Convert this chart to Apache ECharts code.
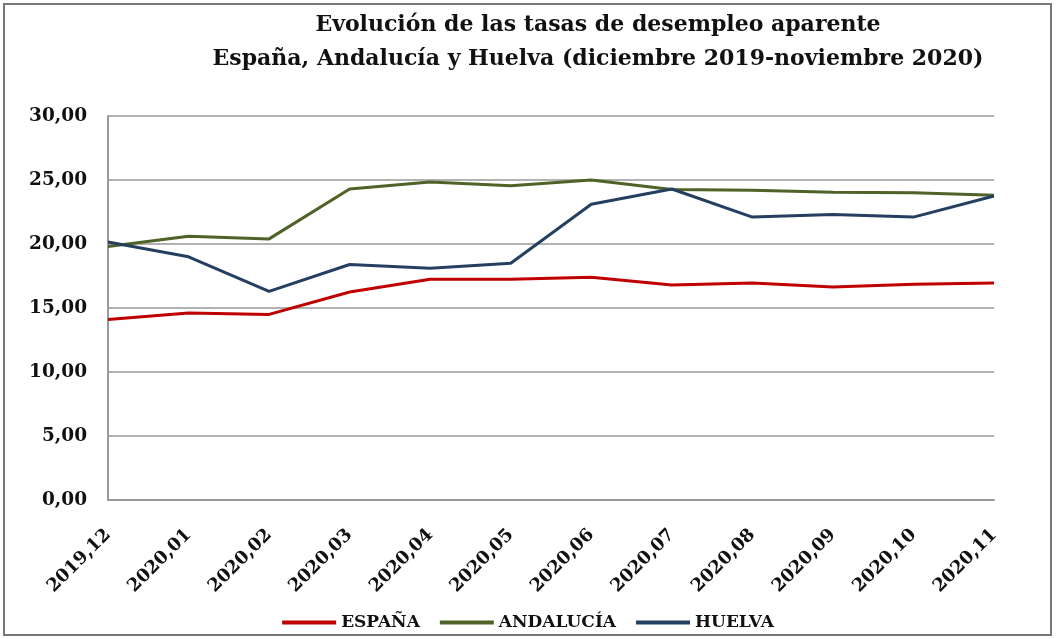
<!DOCTYPE html>
<html>
<head>
<meta charset="utf-8">
<script src="https://cdn.jsdelivr.net/npm/echarts@6/dist/echarts.min.js"></script>
<style>
  html, body { margin: 0; padding: 0; background: #fff; }
  #main { width: 1056px; height: 639px; }
</style>
</head>
<body>
<div id="main"></div>
<script>
// meses (eje X)
var meses = ['2019,12', '2020,01', '2020,02', '2020,03', '2020,04', '2020,05',
  '2020,06', '2020,07', '2020,08', '2020,09', '2020,10', '2020,11'];

// tasas de desempleo aparente (%)
var espana = [14.1, 14.6, 14.5, 16.25, 17.25, 17.25, 17.4, 16.8, 16.95, 16.65, 16.85, 16.95];
var andalucia = [19.8, 20.6, 20.4, 24.3, 24.85, 24.55, 25.0, 24.25, 24.2, 24.05, 24.0, 23.8];
var huelva = [20.15, 19.0, 16.3, 18.4, 18.1, 18.5, 23.1, 24.3, 22.1, 22.3, 22.1, 23.75];

var fuente = '"DejaVu Serif", "Liberation Serif", serif';

var chart = echarts.init(document.getElementById('main'));

chart.setOption({
  backgroundColor: '#fff',
  animation: false,
  title: {
    text: 'Evolución de las tasas de desempleo aparente\nEspaña, Andalucía y Huelva (diciembre 2019-noviembre 2020)',
    left: 593,
    top: 3,
    textAlign: 'center',
    textStyle: {
      fontFamily: fuente,
      fontWeight: 'bold',
      fontSize: 22,
      lineHeight: 34,
      color: '#111'
    }
  },
  //marco exterior
  graphic: [{
    type: 'rect',
    shape: { x: 4, y: 4, width: 1047, height: 631 },
    style: { fill: 'none', stroke: '#777', lineWidth: 2 },
    silent: true
  }],
  legend: {
    bottom: 3,
    left: 'center',
    icon: 'rect',
    itemWidth: 54,
    itemHeight: 4,
    itemGap: 20,
    textStyle: {
      fontFamily: fuente,
      fontWeight: 'bold',
      fontSize: 17,
      color: '#111'
    },
    data: ['ESPAÑA', 'ANDALUCÍA', 'HUELVA']
  },
  grid: {
    left: 108,
    right: 62,
    top: 116,
    bottom: 139
  },
  xAxis: {
    type: 'category',
    boundaryGap: false,
    data: meses,
    axisLine: { lineStyle: { color: '#999', width: 2 } },
    axisTick: { show: false },
    axisLabel: {
      rotate: 45,
      margin: 32,
      fontFamily: fuente,
      fontWeight: 'bold',
      fontSize: 18,
      color: '#111'
    }
  },
  yAxis: {
    type: 'value',
    min: 0,
    max: 30,
    interval: 5,
    axisLine: { show: true, lineStyle: { color: '#999', width: 2 } },
    axisTick: { show: false },
    splitLine: { lineStyle: { color: '#999', width: 1.5 } },
    axisLabel: {
      margin: 21,
      fontFamily: fuente,
      fontWeight: 'bold',
      fontSize: 18.5,
      color: '#111',
      formatter: function (v) {
        return v.toFixed(2).replace('.', ',');
      }
    }
  },
  series: [
    {
      name: 'ESPAÑA',
      type: 'line',
      data: espana,
      symbol: 'none',
      color: '#C00000',
      lineStyle: { width: 3 }
    },
    {
      name: 'ANDALUCÍA',
      type: 'line',
      data: andalucia,
      symbol: 'none',
      color: '#4F6228',
      lineStyle: { width: 3 }
    },
    {
      name: 'HUELVA',
      type: 'line',
      data: huelva,
      symbol: 'none',
      color: '#243F60',
      lineStyle: { width: 3 }
    }
  ]
});
</script>
</body>
</html>
